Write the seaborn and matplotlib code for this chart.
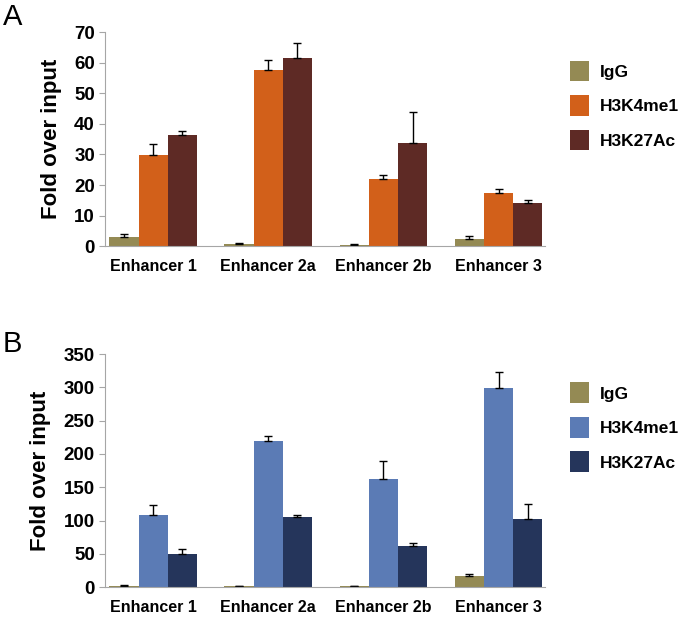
import pandas as pd
import seaborn as sns
import matplotlib.pyplot as plt

plt.rcParams["font.family"] = ["Liberation Sans", "DejaVu Sans"]

# Data
enhancers = ["Enhancer 1", "Enhancer 2a", "Enhancer 2b", "Enhancer 3"]
marks = ["IgG", "H3K4me1", "H3K27Ac"]

# Panel A values and upper error bars
a_igg = [3.0, 0.7, 0.5, 2.5]
a_k4 = [29.7, 57.8, 22.0, 17.5]
a_k27 = [36.3, 61.5, 33.7, 14.0]
a_igg_err = [1.0, 0.4, 0.2, 0.7]
a_k4_err = [3.8, 3.2, 1.4, 1.2]
a_k27_err = [1.3, 5.0, 10.3, 1.0]

# Panel B values and upper error bars
b_igg = [2.0, 1.0, 1.0, 16.0]
b_k4 = [108.0, 220.0, 162.0, 299.0]
b_k27 = [50.0, 105.0, 62.0, 103.0]
b_igg_err = [0.8, 0.5, 0.5, 3.5]
b_k4_err = [16.0, 7.0, 28.0, 24.0]
b_k27_err = [8.0, 4.0, 4.0, 22.0]

colors_a = ["#948a54", "#d2601a", "#5e2a25"]
colors_b = ["#948a54", "#5b7bb5", "#25355b"]


def build_df(igg, k4, k27):
    rows = []
    for vals, m in zip([igg, k4, k27], marks):
        for e, v in zip(enhancers, vals):
            rows.append({"enhancer": e, "mark": m, "value": v})
    return pd.DataFrame(rows)


def draw_panel(ax, df, errs, colors, ymax, step, leg_y):
    sns.barplot(data=df, x="enhancer", y="value", hue="mark", palette=colors,
                errorbar=None, width=0.76, ax=ax, saturation=1, linewidth=0)
    for cont, err in zip(ax.containers, errs):
        xs = [b.get_x() + b.get_width() / 2 for b in cont]
        hs = [b.get_height() for b in cont]
        ax.errorbar(xs, hs, yerr=[[0] * len(err), err], fmt="none",
                    ecolor="black", elinewidth=1, capsize=3, capthick=1)
    ax.set_xlim(-0.42, 3.4)
    ax.set_ylim(0, ymax)
    ax.set_yticks(range(0, ymax + 1, step))
    ax.set_xlabel("")
    ax.set_ylabel("Fold over input", fontsize=16, fontweight="bold", labelpad=9)
    for s in ["top", "right"]:
        ax.spines[s].set_visible(False)
    for s in ["left", "bottom"]:
        ax.spines[s].set_color("#a6a6a6")
    ax.tick_params(axis="x", length=0, labelsize=11.5, pad=9)
    ax.tick_params(axis="y", length=4, color="#a6a6a6", labelsize=13.5, pad=3)
    for t in ax.get_xticklabels() + ax.get_yticklabels():
        t.set_fontweight("bold")
    ax.legend(loc="upper left", bbox_to_anchor=(1.022, leg_y), frameon=False,
              handlelength=1.1, handleheight=1.45, labelspacing=0.8,
              handletextpad=0.6, prop={"weight": "bold", "size": 12.5})


fig = plt.figure(figsize=(6.8, 6.2), dpi=100)
ax_a = fig.add_axes([0.154, 0.603, 0.647, 0.345])
ax_b = fig.add_axes([0.154, 0.053, 0.647, 0.376])

draw_panel(ax_a, build_df(a_igg, a_k4, a_k27),
           [a_igg_err, a_k4_err, a_k27_err], colors_a, 70, 10, 0.94)
draw_panel(ax_b, build_df(b_igg, b_k4, b_k27),
           [b_igg_err, b_k4_err, b_k27_err], colors_b, 350, 50, 0.945)

fig.text(0.004, 0.995, "A", fontsize=21, va="top")
fig.text(0.004, 0.467, "B", fontsize=21, va="top")

fig.savefig("out.png", dpi=100)
